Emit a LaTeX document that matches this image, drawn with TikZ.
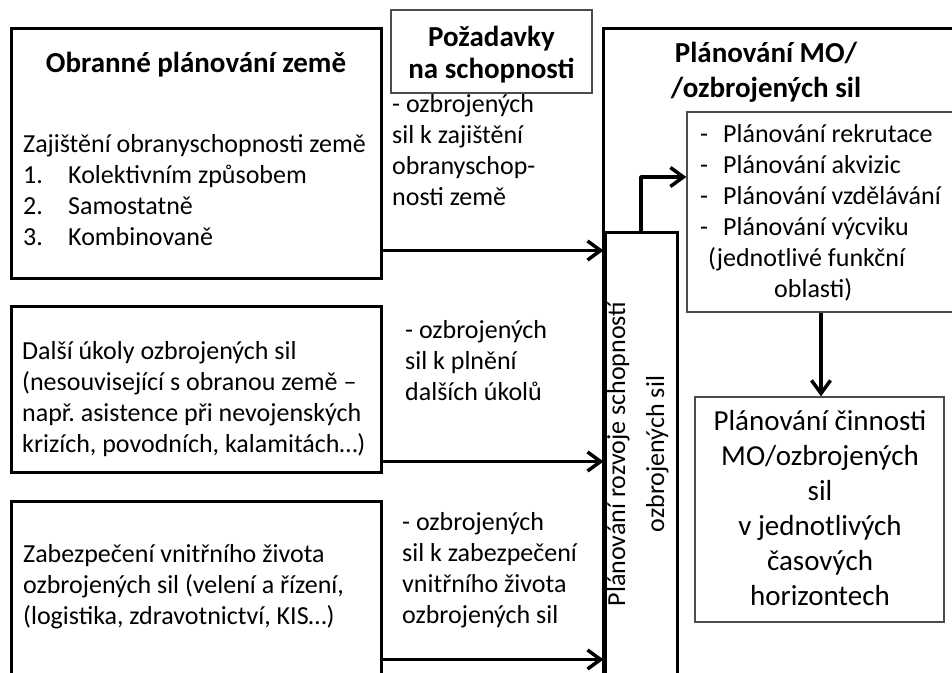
\documentclass[tikz,border=0pt]{standalone}
\usepackage{fontspec}
\setmainfont{Carlito}
\usetikzlibrary{arrows.meta,positioning}

\begin{document}
\begin{tikzpicture}[x=1pt,y=-1pt,
  heavybox/.style={draw=black, line width=3pt},
  lightbox/.style={draw=black!70, line width=1.3pt},
  bodytxt/.style={font=\fontsize{26}{31}\selectfont, align=flush left, anchor=base west},
  headtxt/.style={font=\bfseries\fontsize{29}{34}\selectfont, align=flush center, anchor=base},
  flow/.style={line width=3.5pt, line join=round, -{Straight Barb[length=13pt,width=19pt]}}]
\tikzstyle{every node}+=[inner sep=0pt]
\useasboundingbox (0,0) rectangle (952,672);
\clip (0,0) rectangle (952,672);
% left column
\node [heavybox, minimum width=370pt, minimum height=250pt] (obrana) at (196,153) {};
\node [headtxt, text width=360pt] (obranaT) at (196,72) {Obranné plánování země};
\node [bodytxt, text width=355pt] (obranaL) at (23,152) {Zajištění obranyschopnosti země\\
  \makebox[45pt][l]{1.}Kolektivním způsobem\\
  \makebox[45pt][l]{2.}Samostatně\\
  \makebox[45pt][l]{3.}Kombinovaně};
\node [heavybox, minimum width=370pt, minimum height=166pt] (dalsi) at (196,389) {};
\node [bodytxt, text width=355pt] (dalsiL) at (22,359) {Další úkoly ozbrojených sil\\
  (nesouvisející s obranou země –\\
  např.\ asistence při nevojenských\\
  krizích, povodních, kalamitách…)};
\node [heavybox, minimum width=370pt, minimum height=219pt] (zabez) at (196,610.5) {};
\node [bodytxt, text width=355pt] (zabezL) at (23,562) {Zabezpečení vnitřního života\\
  ozbrojených sil (velení a řízení,\\
  (logistika, zdravotnictví, KIS…)};
% requirements
\node [lightbox, minimum width=201pt, minimum height=83pt] (pozad) at (491.5,51.5) {};
\node [headtxt, text width=200pt, font=\bfseries\fontsize{29}{32}\selectfont] (pozadT) at (491.5,46) {Požadavky\\na schopnosti};
\node [bodytxt, text width=200pt] (req1) at (392,112) {- ozbrojených\\sil k zajištění\\obranyschop-\\nosti země};
\node [bodytxt, text width=200pt] (req2) at (405,338) {- ozbrojených\\sil k plnění\\dalších úkolů};
\node [bodytxt, text width=200pt] (req3) at (402,530) {- ozbrojených\\sil k zabezpečení\\vnitřního života\\ozbrojených sil};
% right column
\node [heavybox, minimum width=387pt, minimum height=692pt] (plan) at (796.5,374) {};
\node [headtxt, text width=260pt, font=\bfseries\fontsize{29}{35}\selectfont] (planT) at (766,62) {Plánování MO/\\/ozbrojených sil};
\node [heavybox, minimum width=72pt, minimum height=444pt] (rozvoj) at (641,454) {};
\node [font=\fontsize{26}{39}\selectfont, text width=330pt, align=flush center, anchor=base, rotate=90] (rozvojT) at (625,454) {Plánování rozvoje schopností\\ozbrojených sil};
\node [lightbox, minimum width=268pt, minimum height=200pt] (oblasti) at (821,212) {};
\node [bodytxt, text width=250pt] (oblastiL) at (700,142) {\makebox[23pt][l]{-}Plánování rekrutace\\
  \makebox[23pt][l]{-}Plánování akvizic\\
  \makebox[23pt][l]{-}Plánování vzdělávání\\
  \makebox[23pt][l]{-}Plánování výcviku\\
  \hspace*{8pt}(jednotlivé funkční\\
  \hspace*{74pt}oblasti)};
\node [lightbox, minimum width=249pt, minimum height=225pt] (cinnost) at (819.5,509.5) {};
\node [font=\fontsize{29}{35}\selectfont, text width=240pt, align=flush center, anchor=base] (cinnostT) at (820,430) {Plánování činnosti\\MO/ozbrojených\\sil\\v jednotlivých\\časových\\horizontech};
% connectors
\draw [flow] ([yshift=29pt]obrana.south east) coordinate (s1) -- (s1 -| rozvoj.west);
\draw [flow] ([yshift=12pt]dalsi.south east) coordinate (s2) -- (s2 -| rozvoj.west);
\draw [flow] ([yshift=62pt]zabez.south east) coordinate (s3) -- (s3 -| rozvoj.west);
\draw [flow] (rozvoj.north) |- ([yshift=35pt]oblasti.west);
\draw [flow] (oblasti.south) -- (oblasti.south |- cinnost.north);
\end{tikzpicture}
\end{document}
